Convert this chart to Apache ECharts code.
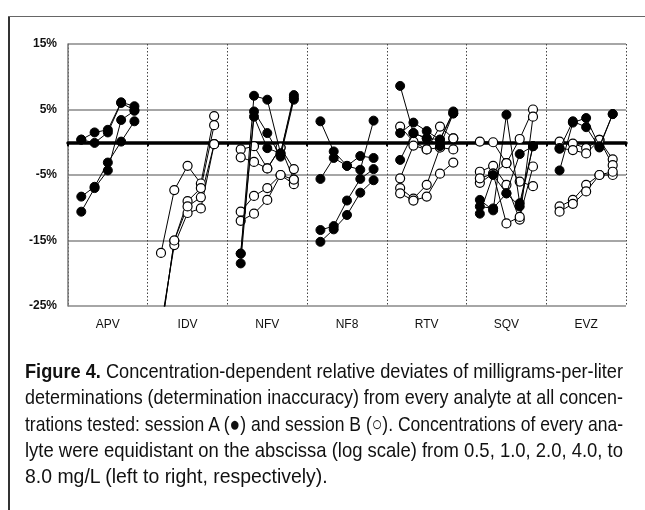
<!DOCTYPE html>
<html><head><meta charset="utf-8">
<script src="https://cdn.jsdelivr.net/npm/echarts@6/dist/echarts.min.js"></script>
<style>
html,body{margin:0;padding:0;background:#fff;}
#wrap{position:relative;width:645px;height:510px;overflow:hidden;background:#fff;}
#chart{position:absolute;left:0;top:0;width:645px;height:510px;}
#cap{position:absolute;left:25px;top:358px;width:598px;font-family:"Liberation Sans",Arial,sans-serif;font-size:21px;line-height:26.3px;color:#111;}
#cap div{white-space:nowrap;transform-origin:0 0;text-align:left;width:2000px;}
#cap div.jus{text-align:justify;text-align-last:justify;}
#cap b{font-weight:bold;}
#bl{position:absolute;left:8px;top:16px;width:2px;height:494px;background:#333;}
#bt{position:absolute;left:8px;top:16px;width:637px;height:1px;background:#666;}
</style></head>
<body>
<div id="wrap">
<div id="chart"></div>
<div id="bl"></div><div id="bt"></div>
<div id="cap">
<div data-j="1"><span><b>Figure 4.</b> Concentration-dependent relative deviates of milligrams-per-liter</span></div>
<div data-j="1"><span>determinations (determination inaccuracy) from every analyte at all concen-</span></div>
<div data-j="1"><span>trations tested: session A (●) and session B (○). Concentrations of every ana-</span></div>
<div data-j="1"><span>lyte were equidistant on the abscissa (log scale) from 0.5, 1.0, 2.0, 4.0, to</span></div>
<div data-j="0"><span>8.0 mg/L (left to right, respectively).</span></div>
</div>
</div>
<script>
const analytes = ['APV','IDV','NFV','NF8','RTV','SQV','EVZ'];
const concentrations = [0.5, 1.0, 2.0, 4.0, 8.0];
const yTickValues = [-25, -15, -5, 5, 15];

// session A (filled) and session B (open) replicate lines, % deviation per concentration
const APV_A = [
  [0.4, 1.5, 1.9, 6.1, 5.5],
  [0.4, -0.1, 1.5, 6.0, 4.9],
  [-8.3, -6.8, -3.1, 0.1, 3.2],
  [-10.6, -7.0, -4.3, 3.4, 4.8]
];
const APV_B = [];
const IDV_A = [];
const IDV_B = [
  [-16.9, -7.3, -3.6, -6.3, 4.0],
  [-29.0, -15.0, -9.0, -7.0, 2.6],
  [-28.0, -15.7, -10.8, -10.1, -0.3],
  [-29.0, -15.0, -9.8, -8.4, -0.3]
];
const NFV_A = [
  [-17.0, 7.1, 6.5, -1.7, 7.2],
  [-18.5, 4.7, 1.4, -2.2, 6.5],
  [-17.0, 3.9, -0.9, -1.7, 6.8]
];
const NFV_B = [
  [-1.1, -0.6, -4.0, -0.8, -4.1],
  [-2.3, -3.0, -4.0, -0.8, -5.7],
  [-10.6, -8.2, -7.0, -5.0, -6.4],
  [-12.0, -10.9, -8.8, -5.0, -5.7]
];
const NF8_A = [
  [3.2, -1.4, -3.6, -2.1, -2.4],
  [-5.6, -2.4, -3.6, -4.2, 3.3],
  [-13.4, -12.8, -8.9, -5.6, -4.1],
  [-15.2, -13.3, -11.1, -7.7, -5.8]
];
const NF8_B = [];
const RTV_A = [
  [8.6, 1.4, 0.6, 0.4, 4.7],
  [1.4, 3.0, 1.7, 0.4, 4.4],
  [-2.7, 1.4, 0.6, -0.6, 4.4]
];
const RTV_B = [
  [2.4, 0.1, -1.1, 2.4, 0.6],
  [-5.5, -0.5, -1.1, -0.8, -1.1],
  [-7.0, -8.6, -6.5, -0.8, 0.6],
  [-7.8, -8.9, -8.3, -4.8, -3.1]
];
const SQV_A = [
  [-8.8, -10.4, 4.2, -9.3, -0.6],
  [-9.8, -10.1, -7.8, -1.8, -0.6],
  [-10.9, -5.0, -7.8, -9.8, -0.6]
];
const SQV_B = [
  [0.1, 0.0, -3.2, 0.5, 5.0],
  [-4.5, -3.6, -6.5, -11.8, 3.9],
  [-6.2, -4.8, -12.4, -11.4, -3.7],
  [-5.5, -4.8, -3.2, -6.0, -6.7]
];
const EVZ_A = [
  [-1.0, 3.2, 2.3, -0.8, 4.3],
  [-4.3, 3.0, 3.7, -0.6, 4.3]
];
const EVZ_B = [
  [0.1, -0.2, -0.9, 0.35, -2.6],
  [-0.9, -1.2, -1.7, 0.35, -3.5],
  [-9.8, -8.8, -6.5, -5.0, -5.0],
  [-10.6, -9.4, -7.5, -5.0, -4.5]
];

const groups = [
  [APV_A, APV_B], [IDV_A, IDV_B], [NFV_A, NFV_B], [NF8_A, NF8_B],
  [RTV_A, RTV_B], [SQV_A, SQV_B], [EVZ_A, EVZ_B]
];
const slots = concentrations.length + 1; // 6 slots per analyte

function mk(row, i, filled) {
  return {
    type: 'line',
    xAxisIndex: 0, yAxisIndex: 0,
    data: row.map((v, k) => [i * slots + k + 1, v]),
    symbol: 'circle',
    symbolSize: 9,
    showSymbol: true,
    clip: true,
    silent: true,
    animation: false,
    emphasis: { disabled: true },
    lineStyle: { color: '#000', width: 1 },
    itemStyle: filled
      ? { color: '#000', borderColor: '#000', borderWidth: 1 }
      : { color: '#fff', borderColor: '#000', borderWidth: 1.2 },
    z: filled ? 3 : 2
  };
}
const series = [];
groups.forEach(([A, B], i) => {
  B.forEach(row => series.push(mk(row, i, false)));
  A.forEach(row => series.push(mk(row, i, true)));
});

const chart = echarts.init(document.getElementById('chart'), null, { renderer: 'canvas' });
chart.setOption({
  animation: false,
  backgroundColor: 'transparent',
  grid: { left: 68, right: 19, top: 44, bottom: 204, containLabel: false },
  xAxis: [
    {
      type: 'value', min: 0, max: analytes.length * slots, interval: slots,
      position: 'bottom',
      axisLine: { show: true, onZero: true, lineStyle: { color: '#000', width: 3.5 } },
      axisTick: { show: true, length: 4, lineStyle: { color: '#000', width: 2 } },
      axisLabel: { show: false },
      splitLine: { show: true, lineStyle: { color: '#444', width: 1, type: [1.5, 2] } }
    },
    {
      type: 'category', data: analytes, position: 'bottom', boundaryGap: true,
      axisLine: { show: false, onZero: false },
      axisTick: { show: false },
      splitLine: { show: false },
      axisLabel: { margin: 13, fontSize: 12, color: '#111', fontFamily: 'Liberation Sans, Arial, sans-serif' }
    }
  ],
  yAxis: {
    type: 'value', min: yTickValues[0], max: yTickValues[yTickValues.length - 1], interval: 10,
    axisLine: { show: true, onZero: false, lineStyle: { color: '#777', width: 1.5 } },
    axisTick: { show: false },
    axisLabel: { formatter: '{value}%', margin: 11, fontSize: 12, fontWeight: 'bold', color: '#111', fontFamily: 'Liberation Sans, Arial, sans-serif' },
    splitLine: { show: true, lineStyle: { color: '#888', width: 1.5 } }
  },
  series: series
});

// fit caption lines: condensed look, justified to the text block width
(function fitCaption() {
  const target = 598, base = 0.925;
  document.querySelectorAll('#cap > div').forEach(div => {
    const w = div.querySelector('span').getBoundingClientRect().width;
    let s = base;
    if (w * s > target) s = target / w;
    if (div.dataset.j === '1') {
      div.style.width = (target / s) + 'px';
      div.classList.add('jus');
    }
    div.style.transform = 'scaleX(' + s + ')';
  });
})();
</script>
</body></html>
